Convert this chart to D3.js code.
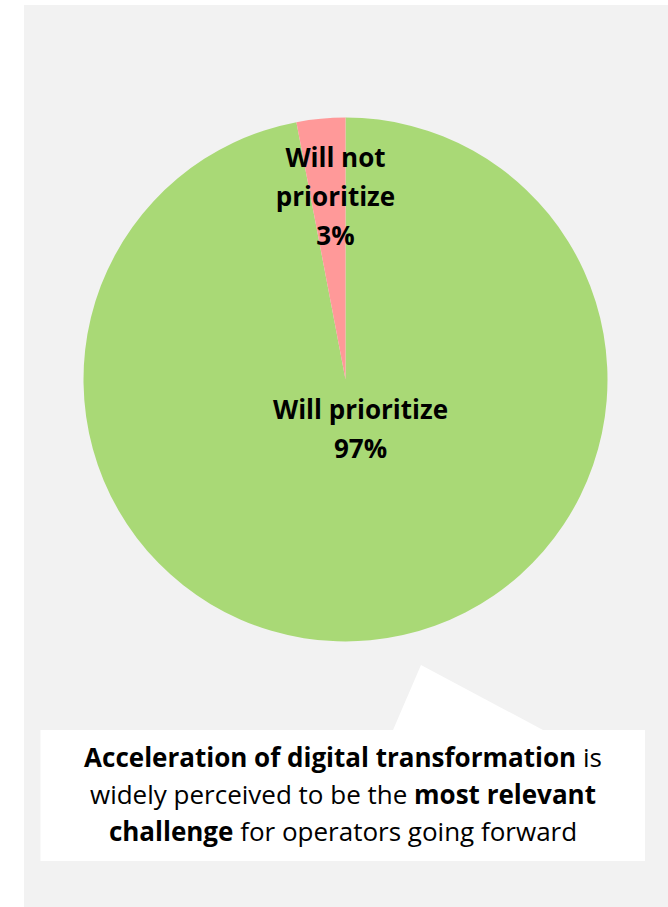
<!DOCTYPE html>
<html>
<head>
<meta charset="utf-8">
<script src="https://cdn.jsdelivr.net/npm/d3@7"></script>
<style>
    html, body { margin: 0; padding: 0; background: #ffffff; }
    svg text { font-family: "Open Sans", Lato, sans-serif; fill: #000000; }
</style>
</head>
<body>
<div id="chart"></div>
<script>
// 数据
var categories = ['Will prioritize', 'Will not prioritize'];
var shares = [97, 3];
var sliceColors = ['#a9d976', '#ff9999'];
// 标签的每一行
var labelLines = [['Will prioritize', '97%'], ['Will not', 'prioritize', '3%']];
// 说明文字，每行由若干片段组成，[文字, 是否加粗]
var noteLines = [
    [['Acceleration of digital transformation', true], [' is', false]],
    [['widely perceived to be the ', false], ['most relevant', true]],
    [['challenge', true], [' for operators going forward', false]]
];

var width = 668;
var height = 907;

var svg = d3.select('#chart')
    .append('svg')
    .attr('width', width)
    .attr('height', height);

// 灰色背景
svg.append('rect')
    .attr('x', 24)
    .attr('y', 5)
    .attr('width', width - 24)
    .attr('height', height - 5)
    .attr('fill', '#f2f2f2');

// 饼图
var cx = 345.5;
var cy = 379.5;
var radius = 262;

var pie = d3.pie()
    .sort(null)
    .value(function (d) { return d; });
var arc = d3.arc()
    .innerRadius(0)
    .outerRadius(radius);

var slices = pie(shares);

var g = svg.append('g')
    .attr('transform', 'translate(' + cx + ',' + cy + ')');

g.selectAll('path')
    .data(slices)
    .enter()
    .append('path')
    .attr('d', arc)
    .attr('fill', function (d, i) { return sliceColors[i]; });

// 标签位置（相对圆心）：[x, 第一行基线]
var labelPos = [[15, 39.5], [-10, -212.5]];
var lineGap = 39;

g.selectAll('text.label')
    .data(slices)
    .enter()
    .append('text')
    .attr('class', 'label')
    .attr('text-anchor', 'middle')
    .attr('font-size', '26px')
    .attr('font-weight', 'bold')
    .each(function (d, i) {
        var t = d3.select(this);
        labelLines[i].forEach(function (s, k) {
            t.append('tspan')
                .attr('x', labelPos[i][0])
                .attr('y', labelPos[i][1] + k * lineGap)
                .text(s);
        });
    });

// 白色说明框，带指向饼图的尖角
var box = { x0: 40.5, y0: 730, x1: 645, y1: 861 };
var tip = [[393, 730], [421, 665], [543, 730]];
var boxPath = d3.path();
boxPath.moveTo(box.x0, box.y0);
boxPath.lineTo(tip[0][0], tip[0][1]);
boxPath.lineTo(tip[1][0], tip[1][1]);
boxPath.lineTo(tip[2][0], tip[2][1]);
boxPath.lineTo(box.x1, box.y0);
boxPath.lineTo(box.x1, box.y1);
boxPath.lineTo(box.x0, box.y1);
boxPath.closePath();

svg.append('path')
    .attr('d', boxPath.toString())
    .attr('fill', '#ffffff');

var note = svg.append('text')
    .attr('text-anchor', 'middle')
    .attr('font-size', '26px');

noteLines.forEach(function (parts, k) {
    var line = note.append('tspan')
        .attr('x', 343)
        .attr('y', 767 + k * 37);
    parts.forEach(function (p) {
        line.append('tspan')
            .attr('font-weight', p[1] ? 'bold' : 'normal')
            .text(p[0]);
    });
});
</script>
</body>
</html>
